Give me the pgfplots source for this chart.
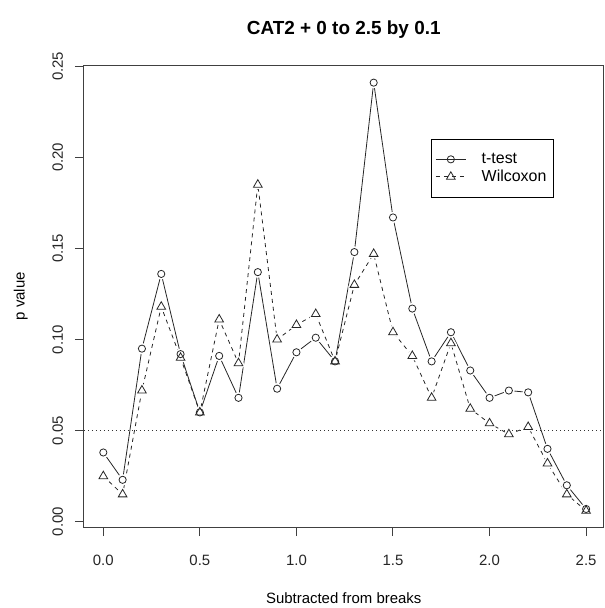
\documentclass[border=0pt]{standalone}
\usepackage{pgfplots}
\pgfplotsset{compat=1.18}
\usepackage{pgfplotstable}
\usepackage{fontspec}
\setmainfont{Liberation Sans}
\pgfplotstableread{
x t w
0.0 0.038 0.025
0.1 0.023 0.015
0.2 0.095 0.072
0.3 0.136 0.118
0.4 0.092 0.090
0.5 0.060 0.060
0.6 0.091 0.111
0.7 0.068 0.087
0.8 0.137 0.185
0.9 0.073 0.100
1.0 0.093 0.108
1.1 0.101 0.114
1.2 0.088 0.088
1.3 0.148 0.130
1.4 0.241 0.147
1.5 0.167 0.104
1.6 0.117 0.091
1.7 0.088 0.068
1.8 0.104 0.098
1.9 0.083 0.062
2.0 0.068 0.054
2.1 0.072 0.048
2.2 0.071 0.052
2.3 0.040 0.032
2.4 0.020 0.015
2.5 0.007 0.006
}\datatab
\begin{document}
\begin{tikzpicture}
\useasboundingbox (-84bp,-81bp) rectangle (521bp,527bp);
\begin{axis}[
  at={(0,0)}, anchor=south west,
  scale only axis, width=519.5bp, height=461.3bp,
  xmin=-0.1, xmax=2.59, ymin=-0.0029, ymax=0.2503,
  axis line style={black!75, line width=1bp},
  tick style={black!75, line width=1bp},
  tick align=outside, major tick length=9bp, tick pos=left,
  xtick={0,0.5,...,2.5}, ytick={0,0.05,...,0.25},
  /pgf/number format/assume math mode=true,
  xticklabel={\pgfmathprintnumber[fixed,fixed zerofill,precision=1]{\tick}},
  yticklabel={\pgfmathprintnumber[fixed,fixed zerofill,precision=2]{\tick}},
  ticklabel style={font=\fontsize{15}{18}\selectfont, text=black!85},
  xticklabel style={anchor=base, yshift=-29bp},
  yticklabel style={rotate=90, anchor=base, yshift=12bp},
  title={\textbf{CAT2 + 0 to 2.5 by 0.1}},
  title style={at={(axis description cs:0.5,1)}, anchor=base, yshift=25bp, font=\fontsize{19}{23}\selectfont},
  xlabel={Subtracted from breaks},
  xlabel style={at={(axis description cs:0.5,0)}, anchor=center, yshift=-71.3bp, font=\fontsize{15}{18}\selectfont},
  ylabel={p value},
  ylabel style={at={(axis description cs:0,0.5)}, anchor=center, yshift=63.3bp, font=\fontsize{15}{18}\selectfont},
  legend image code/.code={\draw[mark repeat=2,mark phase=2,#1] plot coordinates {(0bp,0bp) (15bp,0bp) (30bp,0bp)};},
  legend style={at={(0.668,0.841)}, anchor=north west, draw=black, line width=0.8bp,
    font=\fontsize{16}{19}\selectfont, inner xsep=4bp, inner ysep=13bp, row sep=3bp,
    nodes={inner sep=1bp}, cells={anchor=west},
    /tikz/every odd column/.append style={column sep=12bp},
    /tikz/every even column/.append style={nodes={inner xsep=3.5bp}}},
]
\addplot[black!85, line width=0.8bp, no marks, forget plot] table[x=x, y=t] {\datatab};
\addplot[black!85, line width=0.8bp, dash pattern=on 4bp off 4bp, no marks, forget plot] table[x=x, y=w] {\datatab};
\addplot[only marks, mark=*, mark size=3.6bp, mark options={draw=white, fill=white, line width=4bp}, forget plot] table[x=x, y=t] {\datatab};
\addplot[only marks, mark=triangle*, mark size=5bp, mark options={draw=white, fill=white, line width=4bp, line join=round}, forget plot] table[x=x, y=w] {\datatab};
\addplot[black!80, line width=0.8bp, dash pattern=on 1bp off 3bp, forget plot] coordinates {(-0.1,0.05) (2.59,0.05)};
\addplot[only marks, mark=o, mark size=3.6bp, mark options={draw=black!85, line width=0.8bp}, forget plot] table[x=x, y=t] {\datatab};
\addplot[only marks, mark=triangle, mark size=5bp, mark options={draw=black!85, line width=0.8bp}, forget plot] table[x=x, y=w] {\datatab};
\addlegendimage{black!85, line width=0.8bp, mark=o, mark options={solid, mark size=3.6bp}}
\addlegendentry{t-test}
\addlegendimage{black!85, line width=0.8bp, dash pattern=on 4bp off 4bp, mark=triangle, mark options={solid, mark size=5bp}}
\addlegendentry{Wilcoxon}
\end{axis}
\end{tikzpicture}
\end{document}
